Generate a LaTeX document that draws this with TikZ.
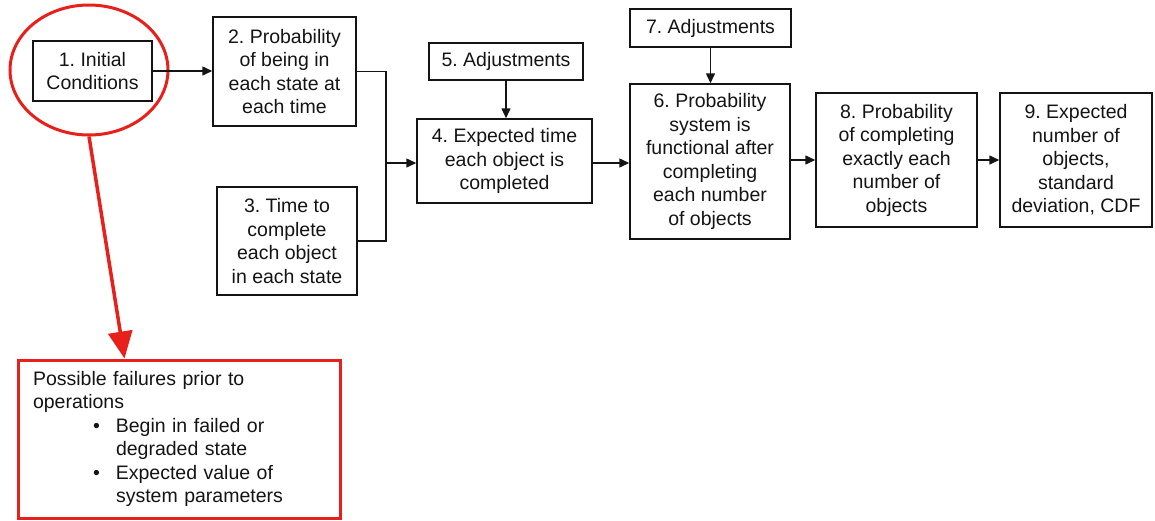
\documentclass[tikz,border=0pt]{standalone}
\usepackage{fontspec}
\setmainfont{Liberation Sans}
\usetikzlibrary{arrows.meta,shapes.geometric}
\definecolor{ink}{RGB}{20,20,20}
\definecolor{alert}{RGB}{232,32,28}
\frenchspacing
\begin{document}
\begin{tikzpicture}[x=1pt,y=-1pt,
  every node/.style={font=\fontsize{19.5}{23.5}\selectfont, text=ink},
  stepbox/.style={draw=ink, line width=1.5pt, align=center, inner sep=0pt},
  flow/.style={draw=ink, line width=1.5pt, -{Triangle[length=10pt,width=9pt]}},
  plain/.style={draw=ink, line width=1.5pt},
  redring/.style={draw=alert, line width=3pt, ellipse, inner sep=0pt},
  redbox/.style={draw=alert, line width=3pt, align=left, inner sep=0pt},
  redarrow/.style={draw=alert, line width=3.5pt, -{Triangle[length=27pt,width=24pt]}}]
\useasboundingbox (0,0) rectangle (1155,520);

% main chain of steps
\node[stepbox, minimum width=119pt, minimum height=60pt] (b1) at (92.5,71) {1. Initial\\Conditions};
\node[stepbox, minimum width=143pt, minimum height=109pt] (b2) at (284.5,71.5) {2. Probability\\of being in\\each state at\\each time};
\node[stepbox, minimum width=140pt, minimum height=108pt] (b3) at (287,241) {3. Time to\\complete\\each object\\in each state};
\node[stepbox, minimum width=175pt, minimum height=84pt] (b4) at (504.5,161) {4. Expected time\\each object is\\completed};
\node[stepbox, minimum width=154pt, minimum height=37pt] (b5) at (506,61.5) {5. Adjustments};
\node[stepbox, minimum width=160pt, minimum height=155pt] (b6) at (710,161.5) {6. Probability\\system is\\functional after\\completing\\each number\\of objects};
\node[stepbox, minimum width=161pt, minimum height=38pt] (b7) at (710.5,28) {7. Adjustments};
\node[stepbox, minimum width=161pt, minimum height=134pt] (b8) at (896.5,160) {8. Probability\\of completing\\exactly each\\number of\\objects};
\node[stepbox, minimum width=152pt, minimum height=134pt] (b9) at (1076,160) {9. Expected\\number of\\objects,\\standard\\deviation, CDF};

% highlight on the initial conditions
\node[redring, minimum width=158pt, minimum height=130pt] (ring) at (89,70) {};
\node[redbox, minimum width=322pt, minimum height=158pt, text width=292pt] (fail) at (179,439)
  {Possible failures prior to\\
   operations\\
   \hspace*{60pt}\textbullet\hspace{16pt}Begin in failed or\\
   \hspace*{83pt}degraded state\\
   \hspace*{60pt}\textbullet\hspace{16pt}Expected value of\\
   \hspace*{83pt}system parameters};

% connectors
\coordinate (join) at (386,163);
\draw[flow] (b1.east) -- (b2.west |- b1.east);
\draw[plain] (b2.east) -- (b2.east -| join) -- (b3.east -| join) -- (b3.east);
\draw[flow] (join) -- (b4.west |- join);
\draw[flow] (b5.south) -- (b4.north -| b5.south);
\draw[flow] (b4.east |- join) -- (b6.west |- join);
\draw[flow] (b7.south) -- (b6.north -| b7.south);
\draw[flow] (b6.east |- b8.west) -- (b8.west);
\draw[flow] (b8.east) -- (b9.west);
\draw[redarrow] (ring.south) -- ([xshift=108pt]fail.north west);
\end{tikzpicture}
\end{document}
